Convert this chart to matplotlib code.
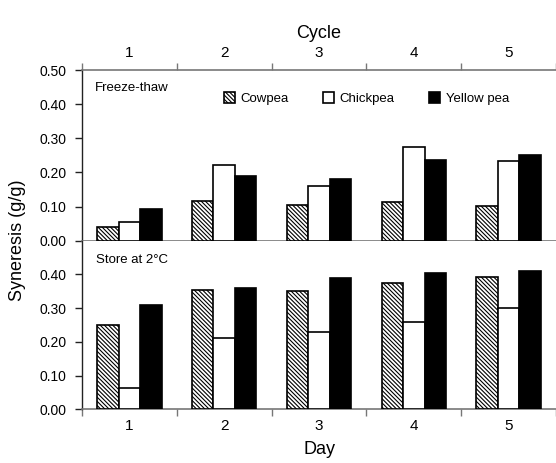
import numpy as np
import matplotlib.pyplot as plt

plt.rcParams["font.family"] = ["Liberation Sans", "DejaVu Sans"]
plt.rcParams["hatch.linewidth"] = 0.8

# data
groups = [1, 2, 3, 4, 5]
series = ["Cowpea", "Chickpea", "Yellow pea"]

freeze_cowpea = [0.041, 0.117, 0.105, 0.114, 0.103]
freeze_chickpea = [0.056, 0.222, 0.160, 0.274, 0.234]
freeze_yellow = [0.093, 0.190, 0.181, 0.236, 0.251]

store_cowpea = [0.249, 0.354, 0.351, 0.375, 0.393]
store_chickpea = [0.063, 0.211, 0.228, 0.259, 0.301]
store_yellow = [0.309, 0.361, 0.388, 0.403, 0.411]

top_yticks = [0.0, 0.1, 0.2, 0.3, 0.4, 0.5]
bottom_yticks = [0.0, 0.1, 0.2, 0.3, 0.4]

styles = [
    dict(facecolor="white", hatch="\\" * 8),
    dict(facecolor="white"),
    dict(facecolor="black"),
]
spine_h = "#777777"
spine_v = "#222222"

fig = plt.figure(figsize=(5.56, 4.63), dpi=100)
ax_top = fig.add_axes([0.1475, 0.4801, 0.8525, 0.3687])
ax_bot = fig.add_axes([0.1475, 0.1160, 0.8525, 0.3642])

x = np.array(groups, dtype=float)
w = 0.227


def draw_bars(ax, vals_list):
    for i, (vals, st) in enumerate(zip(vals_list, styles)):
        ax.bar(x + (i - 1) * w, vals, width=w, edgecolor="black",
               linewidth=1.2, label=series[i], zorder=3, **st)
    ax.set_xlim(0.5, 5.5)
    ax.set_ylim(0, 0.5)
    ax.spines["right"].set_visible(False)
    ax.spines["left"].set_color(spine_v)
    ax.spines["left"].set_linewidth(1.0)
    ax.tick_params(axis="y", direction="out", length=5, width=1.0,
                   color=spine_v, labelsize=10, pad=6)
    ax.yaxis.set_major_formatter(plt.FormatStrFormatter("%.2f"))


draw_bars(ax_top, [freeze_cowpea, freeze_chickpea, freeze_yellow])
draw_bars(ax_bot, [store_cowpea, store_chickpea, store_yellow])

# top panel: cycle axis on top
ax_top.set_yticks(top_yticks)
ax_top.spines["top"].set_color(spine_h)
ax_top.spines["top"].set_linewidth(1.2)
ax_top.spines["bottom"].set_color(spine_h)
ax_top.spines["bottom"].set_linewidth(1.2)
ax_top.xaxis.tick_top()
ax_top.xaxis.set_label_position("top")
ax_top.set_xticks(groups)
ax_top.set_xticklabels([str(g) for g in groups])
ax_top.set_xticks(np.arange(0.5, 5.6, 1.0), minor=True)
ax_top.tick_params(axis="x", which="major", length=0, labelsize=11, pad=7)
ax_top.tick_params(axis="x", which="minor", direction="out", length=5,
                   width=1.0, color=spine_h, top=True, bottom=False)
ax_top.set_xlabel("Cycle", fontsize=13, labelpad=6)
ax_top.text(0.027, 0.896, "Freeze-thaw", transform=ax_top.transAxes,
            fontsize=9.5, va="center", ha="left")
ax_top.legend(loc="center left", bbox_to_anchor=(0.30, 0.831), ncol=3,
              frameon=False, fontsize=9.5, handlelength=0.85,
              handleheight=0.85, handletextpad=0.4, columnspacing=2.6,
              borderpad=0, borderaxespad=0)

# bottom panel: day axis
ax_bot.set_yticks(bottom_yticks)
ax_bot.spines["top"].set_visible(False)
ax_bot.spines["bottom"].set_color(spine_h)
ax_bot.spines["bottom"].set_linewidth(1.2)
ax_bot.set_xticks(groups)
ax_bot.set_xticklabels([str(g) for g in groups])
ax_bot.set_xticks(np.arange(0.5, 5.6, 1.0), minor=True)
ax_bot.tick_params(axis="x", which="major", length=0, labelsize=11, pad=7)
ax_bot.tick_params(axis="x", which="minor", direction="out", length=5,
                   width=1.0, color=spine_h)
ax_bot.set_xlabel("Day", fontsize=13, labelpad=6)
ax_bot.text(0.03, 0.886, "Store at 2\u00b0C", transform=ax_bot.transAxes,
            fontsize=9.5, va="center", ha="left")

fig.text(0.032, 0.4801, "Syneresis (g/g)", rotation=90, fontsize=13,
         ha="center", va="center")

fig.savefig("out.png", dpi=100)
